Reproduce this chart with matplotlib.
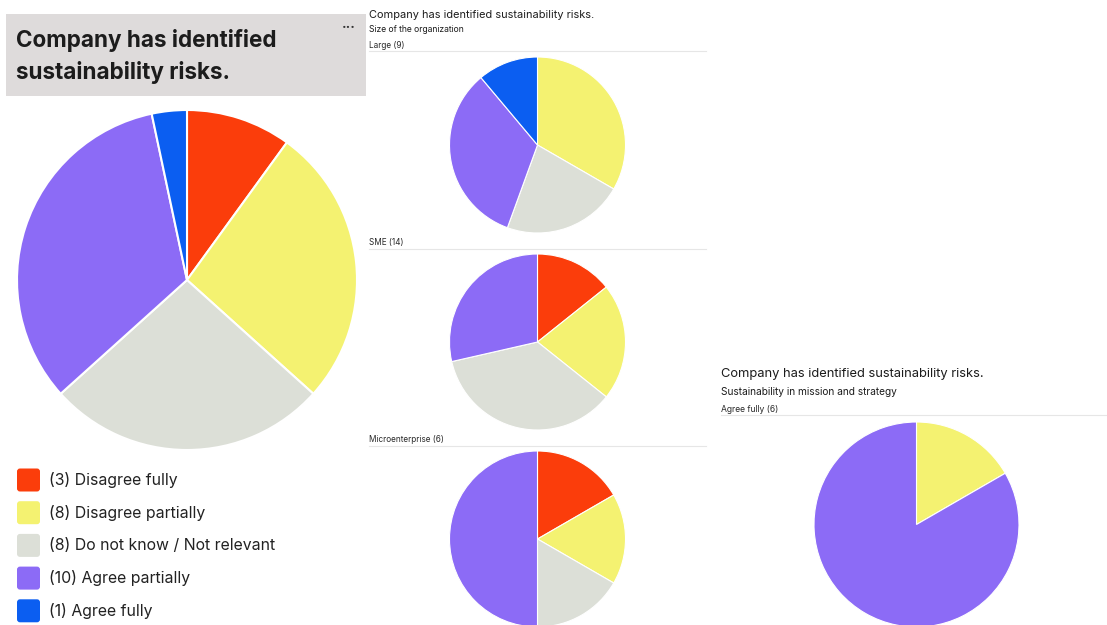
import matplotlib
matplotlib.use("Agg")
import matplotlib.pyplot as plt
from matplotlib.patches import FancyBboxPatch, Rectangle

plt.rcParams['font.family'] = ['Inter', 'DejaVu Sans']

W, H = 1107, 625

# Answer categories and colours
categories = ["Disagree fully", "Disagree partially", "Do not know / Not relevant",
              "Agree partially", "Agree fully"]
colors = ["#fb3d0b", "#f4f271", "#dcdfd7", "#8c6bf6", "#0b5ef1"]

# Overall results
overall = [3, 8, 8, 10, 1]

# Split by size of the organization
size_groups = ["Large", "SME", "Microenterprise"]
large = [0, 3, 2, 3, 1]
sme = [2, 3, 5, 4, 0]
micro = [1, 1, 1, 3, 0]

# Split by sustainability in mission and strategy
mission_group = "Agree fully"
mission_agree_fully = [0, 1, 0, 5, 0]

title = "Company has identified sustainability risks."

fig = plt.figure(figsize=(W / 100, H / 100), dpi=100)
fig.patch.set_facecolor("white")

# Full-figure canvas in pixel coordinates for text and decorations
bg = fig.add_axes([0, 0, 1, 1], zorder=0)
bg.set_xlim(0, W)
bg.set_ylim(H, 0)
bg.axis("off")


def pie_at(cx, cy, r, values, lw=1.0):
    ax = fig.add_axes([(cx - r) / W, 1 - (cy + r) / H, 2 * r / W, 2 * r / H], zorder=2)
    vals = [v for v in values if v > 0]
    cols = [c for v, c in zip(values, colors) if v > 0]
    ax.pie(vals, colors=cols, startangle=90, counterclock=False, radius=1,
           wedgeprops=dict(edgecolor="white", linewidth=lw))
    ax.set_xlim(-1, 1)
    ax.set_ylim(-1, 1)
    ax.set_aspect("equal")
    ax.axis("off")
    return ax


# ---- Left panel: overall pie with legend ----
bg.add_patch(Rectangle((6, 14), 360, 82, facecolor="#dedbdb", edgecolor="none"))
bg.text(16, 40, "Company has identified", fontsize=16.2, fontweight="bold",
        color="#1c1c1c", va="center", ha="left")
bg.text(16, 72, "sustainability risks.", fontsize=16.2, fontweight="bold",
        color="#1c1c1c", va="center", ha="left")
bg.text(349, 28, "\u00b7\u00b7\u00b7", fontsize=10, fontweight="bold",
        color="#333333", va="center", ha="center")

pie_at(187, 280, 170, overall, lw=1.5)

for i, (cat, val) in enumerate(zip(categories, overall)):
    y = 480 + i * 32.7
    bg.add_patch(FancyBboxPatch((17, y - 11.5), 23, 23,
                                boxstyle="round,pad=0,rounding_size=3",
                                facecolor=colors[i], edgecolor="none"))
    bg.text(49, y, f"({val}) {cat}", fontsize=11.4, color="#222222",
            va="center", ha="left")

# ---- Middle panel: by organization size ----
bg.text(369, 15, title, fontsize=7.9, color="#1c1c1c", va="center", ha="left")
bg.text(369, 30, "Size of the organization", fontsize=6.2, color="#1c1c1c",
        va="center", ha="left")

size_values = [large, sme, micro]
label_y = [45, 243, 440]
pie_cy = [145, 342, 539]
for grp, vals, ly, cy in zip(size_groups, size_values, label_y, pie_cy):
    bg.text(369, ly, f"{grp} ({sum(vals)})", fontsize=5.9, color="#2a2a2a",
            va="center", ha="left")
    bg.plot([369, 706], [ly + 6, ly + 6], color="#e6e6e6", lw=0.8)
    pie_at(537.5, cy, 88, vals, lw=0.8)

# ---- Right panel: by sustainability in mission ----
bg.text(721, 374, title, fontsize=9.3, color="#1c1c1c", va="center", ha="left")
bg.text(721, 392, "Sustainability in mission and strategy", fontsize=7.3,
        color="#1c1c1c", va="center", ha="left")
bg.text(721, 409, f"{mission_group} ({sum(mission_agree_fully)})", fontsize=6.2,
        color="#2a2a2a", va="center", ha="left")
bg.plot([721, 1107], [415, 415], color="#e6e6e6", lw=0.8)
pie_at(916.5, 524.5, 102.5, mission_agree_fully, lw=0.8)

fig.savefig("out.png", dpi=100, facecolor="white")
